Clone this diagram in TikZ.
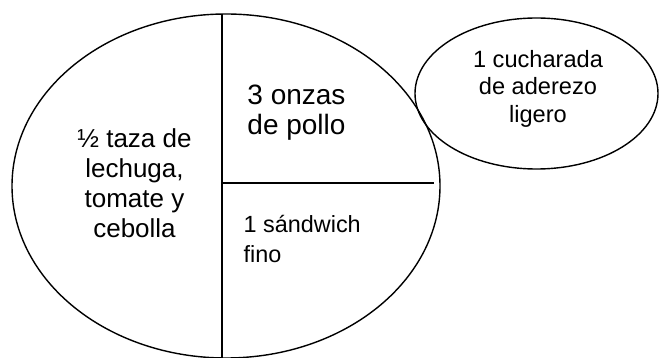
\documentclass[tikz,border=0pt]{standalone}
\usepackage{fontspec}
\setmainfont{Liberation Sans}
\usetikzlibrary{shapes.geometric}
\begin{document}
\begin{tikzpicture}[x=1pt,y=-1pt,line width=1.4pt,
  plate/.style={draw, ellipse, inner sep=0pt},
  lbl/.style={inner sep=0pt}]
\useasboundingbox (0,0) rectangle (659,358);
\node[plate, minimum width=428pt, minimum height=344pt] (big) at (226,186) {};
\node[plate, minimum width=243pt, minimum height=151pt] (small) at (536.5,93.5) {};
\coordinate (vt) at (222,14);
\coordinate (vb) at (222,358);
\coordinate (hl) at (222,183);
\coordinate (hr) at (434,183);
\draw (vt) -- (vb);
\draw (hl) -- (hr);
\node[lbl, align=center, font=\fontsize{26}{30}\selectfont] (veg) at (134.5,183.5) {½ taza de\\lechuga,\\tomate y\\cebolla};
\node[lbl, align=center, font=\fontsize{28}{30}\selectfont] (pollo) at (296.5,113) {3 onzas\\de pollo};
\node[lbl, align=left, anchor=west, font=\fontsize{23.4}{30}\selectfont] (pan) at (243,238.5) {1 sándwich\\fino};
\node[lbl, align=center, font=\fontsize{23.6}{27.5}\selectfont] (aderezo) at (538,88.5) {1 cucharada\\de aderezo\\ligero};
\end{tikzpicture}
\end{document}
